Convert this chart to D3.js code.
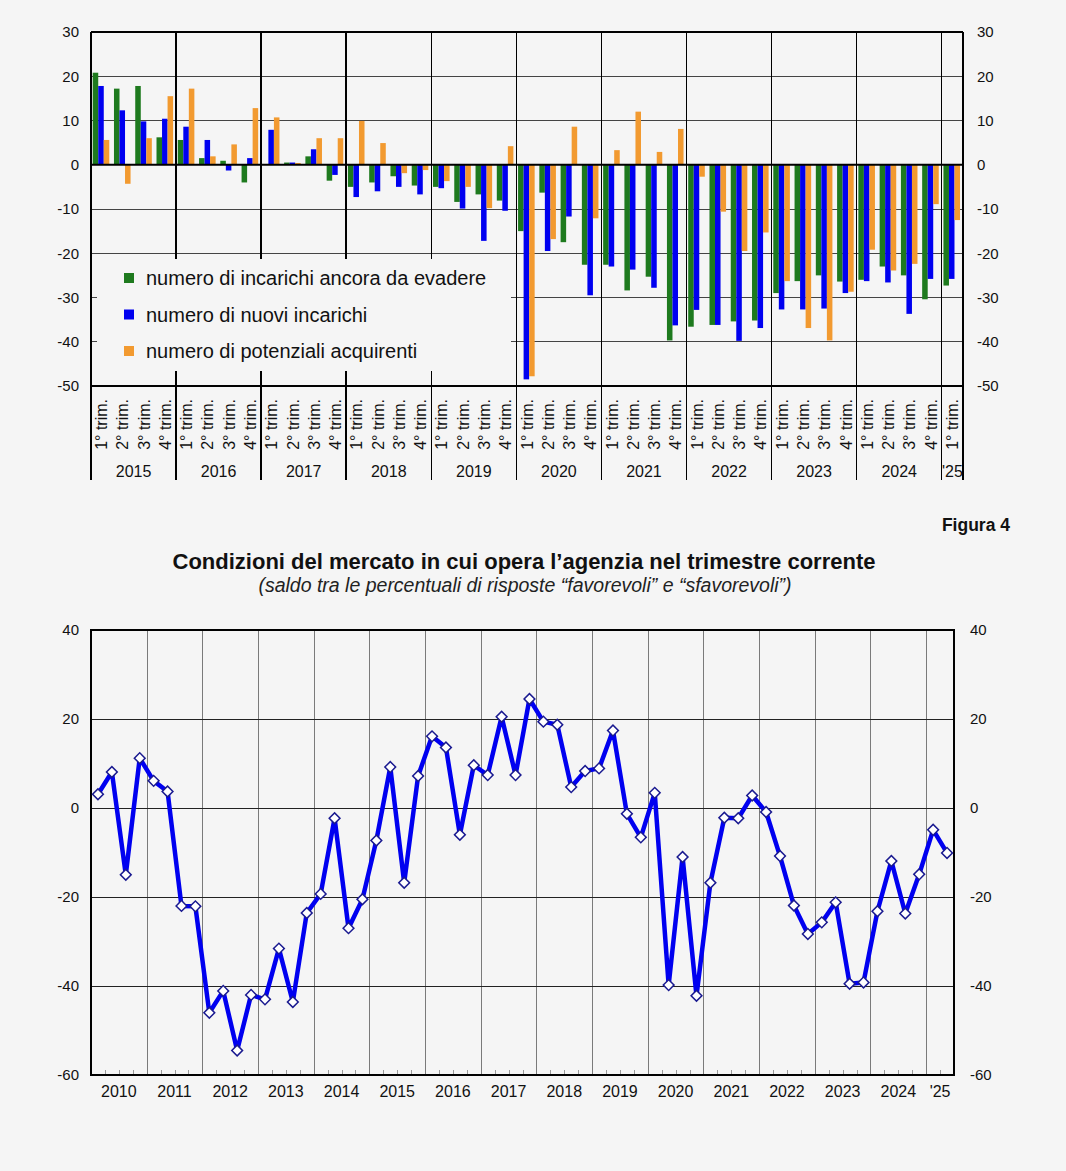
<!DOCTYPE html>
<meta charset="utf-8">
<style>
html, body {
  margin: 0;
  background: #f5f5f5;
}

svg {
  display: block;
  font-family: "Liberation Sans", Arial, Helvetica, sans-serif;
}

.grid line {
  stroke: #444;
  stroke-width: 1;
  shape-rendering: crispEdges;
}

.frame {
  fill: none;
  stroke: #000;
  stroke-width: 1.5;
  shape-rendering: crispEdges;
}

.axis text {
  font-size: 15px;
  fill: #111;
}

.axis path,
.axis line {
  display: none;
}
</style>
<body>
<svg class="chart" width="1066" height="1171"></svg>

<script src="https://d3js.org/d3.v7.min.js"></script>
<script type="text/javascript">
"use strict";

// ---- top chart data: quarterly balances 2015 Q1 - 2025 Q1 ----
var barYears = ["2015", "2016", "2017", "2018", "2019", "2020", "2021", "2022", "2023", "2024", "'25"];
var quarterLabels = ["1° trim.", "2° trim.", "3° trim.", "4° trim."];
var seriesNames = [
  "numero di incarichi ancora da evadere",
  "numero di nuovi incarichi",
  "numero di potenziali acquirenti"
];
var incarichiDaEvadere = [
  20.8, 17.2, 17.8, 6.2,
  5.6, 1.5, 0.9, -4.0,
  0.1, 0.5, 1.9, -3.6,
  -5.0, -4.0, -2.6, -4.7,
  -5.0, -8.4, -6.7, -8.1,
  -15.0, -6.3, -17.5, -22.6,
  -22.6, -28.4, -25.3, -39.7,
  -36.6, -36.2, -35.4, -35.2,
  -29.0, -26.3, -25.0, -26.4,
  -26.0, -23.0, -25.0, -30.4,
  -27.3
];
var nuoviIncarichi = [
  17.8, 12.3, 9.8, 10.4,
  8.6, 5.6, -1.3, 1.5,
  7.9, 0.5, 3.5, -2.3,
  -7.3, -6.0, -5.0, -6.7,
  -5.3, -9.9, -17.2, -10.4,
  -48.5, -19.5, -11.7, -29.5,
  -23.0, -23.7, -27.8, -36.3,
  -32.8, -36.2, -39.8, -36.9,
  -32.7, -32.7, -32.5, -29.0,
  -26.3, -26.6, -33.7, -25.8,
  -25.8
];
var potenzialiAcquirenti = [
  5.6, -4.3, 6.0, 15.5,
  17.2, 1.9, 4.6, 12.8,
  10.7, 0.4, 6.0, 6.0,
  9.9, 4.9, -1.9, -1.2,
  -3.7, -5.0, -9.8, 4.2,
  -47.8, -16.8, 8.6, -12.1,
  3.3, 12.0, 2.9, 8.1,
  -2.7, -10.6, -19.5, -15.3,
  -26.3, -36.9, -39.7, -28.7,
  -19.2, -23.9, -22.4, -8.9,
  -12.5
];
var barTicks = [30, 20, 10, 0, -10, -20, -30, -40, -50];
var barColors = ["#1e7a1e", "#0000f0", "#f29a30"];

// ---- bottom chart data: market conditions 2010 Q1 - 2025 Q2 ----
var lineYears = ["2010", "2011", "2012", "2013", "2014", "2015", "2016", "2017",
  "2018", "2019", "2020", "2021", "2022", "2023", "2024", "'25"];
var condizioniMercato = [
  3.1, 8.1, -15.0, 11.2,
  6.1, 3.7, -22.0, -22.1,
  -46.0, -41.1, -54.5, -42.0,
  -43.0, -31.6, -43.6, -23.6,
  -19.3, -2.3, -27.0, -20.5,
  -7.3, 9.2, -16.8, 7.2,
  16.1, 13.6, -6.0, 9.6,
  7.4, 20.5, 7.4, 24.5,
  19.4, 18.7, 4.7, 8.3,
  8.9, 17.4, -1.3, -6.6,
  3.4, -39.8, -11.0, -42.2,
  -16.8, -2.2, -2.3, 2.8,
  -0.9, -10.8, -21.9, -28.3,
  -25.7, -21.2, -39.5, -39.2,
  -23.2, -11.9, -23.7, -14.9,
  -4.9, -10.1
];
var lineTicks = [40, 20, 0, -20, -40, -60];

// plain hyphen for negatives, like the original
var plainNumber = function(d) { return String(d); };

var svg = d3.select(".chart");

// =====================================================================
// top chart
// =====================================================================
var barBox = { left: 91, right: 963, top: 32, bottom: 386 };
var seriesValues = [incarichiDaEvadere, nuoviIncarichi, potenzialiAcquirenti];

var quarters = d3.range(incarichiDaEvadere.length);

var x0 = d3.scaleBand()
  .domain(quarters)
  .range([barBox.left, barBox.right]);

var x1 = d3.scaleBand()
  .domain(d3.range(seriesNames.length))
  .range([x0.bandwidth() * 0.08, x0.bandwidth() * 0.86]);

var y0 = d3.scaleLinear()
  .domain([-50, 30])
  .range([barBox.bottom, barBox.top]);

var barChart = svg.append("g");

// horizontal grid
barChart.append("g")
  .attr("class", "grid")
  .selectAll("line")
  .data(barTicks.filter(function(d) { return d !== 0 && d !== 30 && d !== -50; }))
  .join("line")
  .attr("x1", barBox.left)
  .attr("x2", barBox.right)
  .attr("y1", function(d) { return y0(d); })
  .attr("y2", function(d) { return y0(d); });

// year separators (run down through the category labels)
var yearStarts = barYears.map(function(d, i) { return i * 4; });
barChart.append("g")
  .selectAll("line")
  .data(yearStarts.slice(1))
  .join("line")
  .attr("x1", function(d) { return x0(d); })
  .attr("x2", function(d) { return x0(d); })
  .attr("y1", barBox.top)
  .attr("y2", 480)
  .attr("stroke", "#000")
  .attr("stroke-width", 1.5)
  .attr("shape-rendering", "crispEdges");

[barBox.left, barBox.right].forEach(function(xx) {
  barChart.append("line")
    .attr("x1", xx).attr("x2", xx)
    .attr("y1", barBox.top).attr("y2", 480)
    .attr("stroke", "#000")
    .attr("stroke-width", 1.5)
    .attr("shape-rendering", "crispEdges");
});

// bars
var groups = barChart.append("g")
  .selectAll("g")
  .data(quarters)
  .join("g")
  .attr("transform", function(d) { return "translate(" + x0(d) + ",0)"; });

groups.selectAll("rect")
  .data(function(q) {
    return seriesValues.map(function(s, k) { return { k: k, v: s[q] }; });
  })
  .join("rect")
  .attr("x", function(d) { return x1(d.k); })
  .attr("width", x1.bandwidth())
  .attr("y", function(d) { return y0(Math.max(0, d.v)); })
  .attr("height", function(d) { return Math.abs(y0(d.v) - y0(0)); })
  .attr("fill", function(d) { return barColors[d.k]; });

// legend (background box masks the grid)
var legend = barChart.append("g");
legend.append("rect")
  .attr("x", 97)
  .attr("y", 259)
  .attr("width", 414)
  .attr("height", 112)
  .attr("fill", "#f5f5f5");

var legendRows = legend.selectAll("g")
  .data(seriesNames)
  .join("g")
  .attr("transform", function(d, i) { return "translate(124," + (273 + i * 36.5) + ")"; });

legendRows.append("rect")
  .attr("width", 10)
  .attr("height", 10)
  .attr("fill", function(d, i) { return barColors[i]; });

legendRows.append("text")
  .attr("x", 22)
  .attr("y", 12)
  .attr("font-size", "20px")
  .attr("fill", "#111")
  .text(function(d) { return d; });

// zero line and frame lines
barChart.append("line")
  .attr("x1", barBox.left).attr("x2", barBox.right)
  .attr("y1", y0(0)).attr("y2", y0(0))
  .attr("stroke", "#000")
  .attr("stroke-width", 2);

barChart.append("line")
  .attr("class", "frame")
  .attr("x1", barBox.left).attr("x2", barBox.right)
  .attr("y1", barBox.top).attr("y2", barBox.top);

barChart.append("line")
  .attr("class", "frame")
  .attr("x1", barBox.left).attr("x2", barBox.right)
  .attr("y1", barBox.bottom).attr("y2", barBox.bottom);

// value axes
barChart.append("g")
  .attr("class", "axis")
  .attr("transform", "translate(" + barBox.left + ",0)")
  .call(d3.axisLeft(y0).tickValues(barTicks).tickFormat(plainNumber).tickSize(0).tickPadding(12));

barChart.append("g")
  .attr("class", "axis")
  .attr("transform", "translate(" + barBox.right + ",0)")
  .call(d3.axisRight(y0).tickValues(barTicks).tickFormat(plainNumber).tickSize(0).tickPadding(14));

// quarter labels
barChart.append("g")
  .selectAll("text")
  .data(quarters)
  .join("text")
  .attr("transform", function(d) {
    return "translate(" + (x0(d) + x0.bandwidth() / 2 + 5.5) + ",399) rotate(-90)";
  })
  .attr("text-anchor", "end")
  .attr("font-size", "16px")
  .attr("fill", "#111")
  .text(function(d) { return quarterLabels[d % 4]; });

// year labels
barChart.append("g")
  .selectAll("text")
  .data(barYears)
  .join("text")
  .attr("x", function(d, i) {
    var a = x0(i * 4);
    var b = Math.min(i * 4 + 4, quarters.length);
    return (a + x0(b - 1) + x0.bandwidth()) / 2;
  })
  .attr("y", 477)
  .attr("text-anchor", "middle")
  .attr("font-size", "16px")
  .attr("fill", "#111")
  .text(function(d) { return d; });

// =====================================================================
// titles
// =====================================================================
svg.append("text")
  .attr("x", 1010)
  .attr("y", 531)
  .attr("text-anchor", "end")
  .attr("font-size", "17.5px")
  .attr("font-weight", "bold")
  .attr("fill", "#111")
  .text("Figura 4");

svg.append("text")
  .attr("x", 524)
  .attr("y", 569)
  .attr("text-anchor", "middle")
  .attr("font-size", "22px")
  .attr("font-weight", "bold")
  .attr("fill", "#111")
  .text("Condizioni del mercato in cui opera l’agenzia nel trimestre corrente");

svg.append("text")
  .attr("x", 525)
  .attr("y", 592)
  .attr("text-anchor", "middle")
  .attr("font-size", "19.5px")
  .attr("font-style", "italic")
  .attr("fill", "#222")
  .text("(saldo tra le percentuali di risposte “favorevoli” e “sfavorevoli”)");

// =====================================================================
// bottom chart
// =====================================================================
var lineBox = { left: 91, right: 954, top: 630, bottom: 1075 };
var points = d3.range(condizioniMercato.length);

var xq = d3.scaleBand()
  .domain(points)
  .range([lineBox.left, lineBox.right]);

var y1 = d3.scaleLinear()
  .domain([-60, 40])
  .range([lineBox.bottom, lineBox.top]);

var lineChart = svg.append("g");

// vertical year lines
lineChart.append("g")
  .selectAll("line")
  .data(lineYears.slice(1).map(function(d, i) { return (i + 1) * 4; }))
  .join("line")
  .attr("x1", function(d) { return Math.round(xq(d)) + 0.5; })
  .attr("x2", function(d) { return Math.round(xq(d)) + 0.5; })
  .attr("y1", lineBox.top)
  .attr("y2", lineBox.bottom)
  .attr("stroke", "#7a7a7a")
  .attr("stroke-width", 1);

// horizontal grid
lineChart.append("g")
  .attr("class", "grid")
  .selectAll("line")
  .data([20, 0, -20, -40])
  .join("line")
  .attr("x1", lineBox.left)
  .attr("x2", lineBox.right)
  .attr("y1", function(d) { return y1(d); })
  .attr("y2", function(d) { return y1(d); })
  .style("stroke", "#222");

// quarter ticks on the bottom axis
lineChart.append("g")
  .selectAll("line")
  .data(points.slice(1).filter(function(d) { return d % 4 !== 0; }))
  .join("line")
  .attr("x1", function(d) { return Math.round(xq(d)) + 0.5; })
  .attr("x2", function(d) { return Math.round(xq(d)) + 0.5; })
  .attr("y1", lineBox.bottom)
  .attr("y2", lineBox.bottom - 5)
  .attr("stroke", "#999");

lineChart.append("rect")
  .attr("class", "frame")
  .attr("x", lineBox.left)
  .attr("y", lineBox.top)
  .attr("width", lineBox.right - lineBox.left)
  .attr("height", lineBox.bottom - lineBox.top);

// value axes
lineChart.append("g")
  .attr("class", "axis")
  .attr("transform", "translate(" + lineBox.left + ",0)")
  .call(d3.axisLeft(y1).tickValues(lineTicks).tickFormat(plainNumber).tickSize(0).tickPadding(12));

lineChart.append("g")
  .attr("class", "axis")
  .attr("transform", "translate(" + lineBox.right + ",0)")
  .call(d3.axisRight(y1).tickValues(lineTicks).tickFormat(plainNumber).tickSize(0).tickPadding(16));

// year labels
lineChart.append("g")
  .selectAll("text")
  .data(lineYears)
  .join("text")
  .attr("x", function(d, i) {
    var a = xq(i * 4);
    var b = Math.min(i * 4 + 4, points.length);
    return (a + xq(b - 1) + xq.bandwidth()) / 2;
  })
  .attr("y", 1097)
  .attr("text-anchor", "middle")
  .attr("font-size", "16px")
  .attr("fill", "#111")
  .text(function(d) { return d; });

// line and markers
var line = d3.line()
  .x(function(d, i) { return xq(i) + xq.bandwidth() / 2; })
  .y(function(d) { return y1(d); });

lineChart.append("path")
  .datum(condizioniMercato)
  .attr("d", line)
  .attr("fill", "none")
  .attr("stroke", "#0000f0")
  .attr("stroke-width", 4.5)
  .attr("stroke-linejoin", "round");

lineChart.append("g")
  .selectAll("path")
  .data(condizioniMercato)
  .join("path")
  .attr("transform", function(d, i) {
    return "translate(" + (xq(i) + xq.bandwidth() / 2) + "," + y1(d) + ") rotate(45)";
  })
  .attr("d", d3.symbol(d3.symbolSquare, 58))
  .attr("fill", "#fff")
  .attr("stroke", "#1a1a90")
  .attr("stroke-width", 1.5);
</script>
</body>
